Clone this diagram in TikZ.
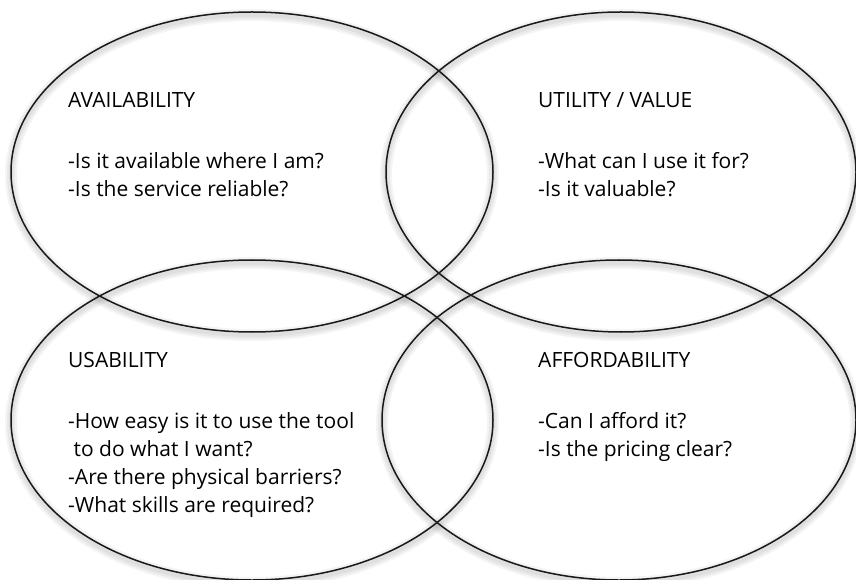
\documentclass[tikz,border=0pt]{standalone}
\usepackage{fontspec}
\setmainfont{Open Sans}

\begin{document}
\begin{tikzpicture}[x=1pt, y=1pt,
    ring/.style={line width=1.5pt, black!90},
    shade/.style={line width=#1, black, opacity=0.045},
    lbl/.style={anchor=north west, align=left, inner sep=0pt,
                font=\fontsize{21}{28}\selectfont}]
  \useasboundingbox (0,0) rectangle (856,579);

  % centres of the four ovals
  \coordinate (avail)  at (252,407);
  \coordinate (util)   at (621,407);
  \coordinate (usab)   at (252,159);
  \coordinate (afford) at (619,159);

  % soft shadow under the rings
  \foreach \c/\rx in {avail/241, util/235, usab/241, afford/237}
    \foreach \w in {4,8,12}
      \draw[shade=\w pt] ([yshift=-3pt]\c) ellipse [x radius=\rx, y radius=160];

  % the rings themselves
  \draw[ring] (avail)  ellipse [x radius=241, y radius=160];
  \draw[ring] (util)   ellipse [x radius=235, y radius=160];
  \draw[ring] (usab)   ellipse [x radius=241, y radius=160];
  \draw[ring] (afford) ellipse [x radius=237, y radius=160];

  % questions in each oval
  \node[lbl] (availtxt) at (68,487)
    {AVAILABILITY\\[33pt]-Is it available where I am?\\-Is the service reliable?};
  \node[lbl] (utiltxt) at (538,487)
    {UTILITY / VALUE\\[33pt]-What can I use it for?\\-Is it valuable?};
  \node[lbl] (usabtxt) at (68,227)
    {USABILITY\\[33pt]-How easy is it to use the tool\\\ to do what I want?\\-Are there physical barriers?\\-What skills are required?};
  \node[lbl] (affordtxt) at (538,227)
    {AFFORDABILITY\\[33pt]-Can I afford it?\\-Is the pricing clear?};
\end{tikzpicture}
\end{document}
